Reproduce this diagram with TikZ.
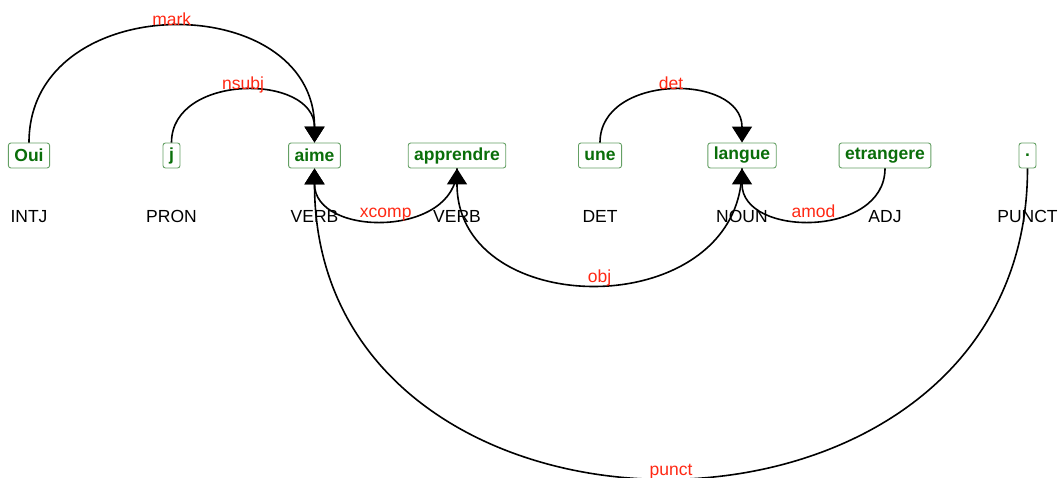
\documentclass[tikz,border=0pt]{standalone}
\usepackage{fontspec}
\setmainfont{Liberation Sans}
\usetikzlibrary{arrows.meta}
\definecolor{wordgreen}{RGB}{10,110,10}
\definecolor{boxgreen}{RGB}{100,160,100}
\definecolor{deplabel}{RGB}{255,40,20}
\begin{document}
\begin{tikzpicture}[x=1pt,y=-1pt,
  wordbox/.style={draw=boxgreen, line width=0.9pt, rounded corners=2.5pt, text=wordgreen,
    font=\fontsize{17.5}{20}\selectfont\bfseries, inner xsep=6pt, inner ysep=0pt,
    minimum height=25pt, minimum width=17pt},
  tagtext/.style={font=\fontsize{17.5}{20}\selectfont, anchor=base, text=black, inner sep=0pt},
  deparc/.style={line width=1.6pt, -{Triangle[length=16pt,width=20pt]}},
  rellabel/.style={font=\fontsize{17.5}{20}\selectfont, text=deplabel, anchor=base, yshift=1.5pt, inner sep=0pt}]
\useasboundingbox (0,0) rectangle (1063,478);
% words
\node[wordbox] (w1) at (29,155.5) {Oui};
\node[wordbox] (w2) at (171.5,155.5) {j};
\node[wordbox] (w3) at (314.5,155.5) {aime};
\node[wordbox] (w4) at (457,155.5) {apprendre};
\node[wordbox] (w5) at (600,155.5) {une};
\node[wordbox] (w6) at (742,155.5) {langue};
\node[wordbox] (w7) at (885,155.5) {etrangere};
\node[wordbox] (w8) at (1027.5,155.5) {.};
% tags
\node[tagtext] (t1) at (29,223) {INTJ};
\node[tagtext] (t2) at (171.5,223) {PRON};
\node[tagtext] (t3) at (314.5,223) {VERB};
\node[tagtext] (t4) at (457,223) {VERB};
\node[tagtext] (t5) at (600,223) {DET};
\node[tagtext] (t6) at (742,223) {NOUN};
\node[tagtext] (t7) at (885,223) {ADJ};
\node[tagtext] (t8) at (1027.5,223) {PUNCT};
% arcs above
\draw[deparc] (w1.north) .. controls +(0,-154.7) and +(0,-154.7) .. (w3.north) node[rellabel,pos=0.5] {mark};
\draw[deparc] (w2.north) .. controls +(0,-69.3) and +(0,-69.3) .. (w3.north) node[rellabel,pos=0.5] {nsubj};
\draw[deparc] (w5.north) .. controls +(0,-69.3) and +(0,-69.3) .. (w6.north) node[rellabel,pos=0.5] {det};
% arcs below
\draw[deparc] (w4.south) .. controls +(0,69.3) and +(0,69.3) .. (w3.south) node[rellabel,pos=0.5,yshift=1pt] {xcomp};
\draw[deparc] (w6.south) .. controls +(0,154.7) and +(0,154.7) .. (w4.south) node[rellabel,pos=0.5] {obj};
\draw[deparc] (w7.south) .. controls +(0,69.3) and +(0,69.3) .. (w6.south) node[rellabel,pos=0.5,yshift=1pt] {amod};
\draw[deparc] (w8.south) .. controls +(0,412) and +(0,412) .. (w3.south) node[rellabel,pos=0.5] {punct};
\end{tikzpicture}
\end{document}
